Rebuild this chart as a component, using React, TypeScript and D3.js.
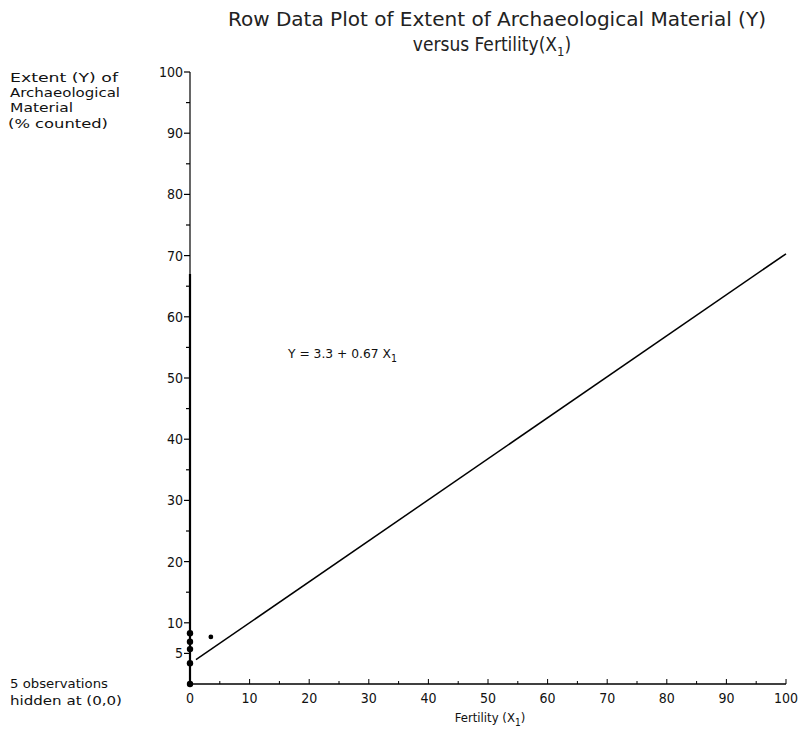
import React from "react";
import * as d3 from "d3";

const xTicks = [0, 10, 20, 30, 40, 50, 60, 70, 80, 90, 100];
const xTickLabels = ["0", "10", "20", "30", "40", "50", "60", "70", "80", "90", "100"];
const yTicks = [5, 10, 20, 30, 40, 50, 60, 70, 80, 90, 100];
const yTickLabels = ["5", "10", "20", "30", "40", "50", "60", "70", "80", "90", "100"];
const minorTicks = [5, 15, 25, 35, 45, 55, 65, 75, 85, 95];

const pointX = [0, 0, 0, 0, 0, 3.5];
const pointY = [0, 3.4, 5.7, 6.9, 8.3, 7.7];

const intercept = 3.3;
const slope = 0.67;

const W = 811;
const H = 736;
const FONT = "'DejaVu Sans Condensed', 'DejaVu Sans', sans-serif";

export default function App() {
  const x = d3.scaleLinear().domain([0, 100]).range([190, 786]);
  const y = d3.scaleLinear().domain([0, 100]).range([684, 72]);
  const line = d3
    .line<number>()
    .x((d) => x(d))
    .y((d) => y(intercept + slope * d));

  return (
    <svg
      width={W}
      height={H}
      style={{ position: "absolute", left: 0, top: 0, background: "#fff" }}
      fontFamily={FONT}
    >
      {/* Title */}
      <text x={497} y={26} fontSize={19} textAnchor="middle" fill="#222" textLength={538} lengthAdjust="spacingAndGlyphs">
        Row Data Plot of Extent of Archaeological Material (Y)
      </text>
      <text x={492} y={51} fontSize={19} textAnchor="middle" fill="#222">
        versus Fertility(X<tspan fontSize={13} dy={5}>1</tspan>
        <tspan dy={-5}>)</tspan>
      </text>

      {/* Y axis label */}
      <g fontSize={13} fill="#111">
        <text x={10} y={82} textLength={108} lengthAdjust="spacingAndGlyphs">Extent (Y) of</text>
        <text x={10} y={97} textLength={110} lengthAdjust="spacingAndGlyphs">Archaeological</text>
        <text x={10} y={112} textLength={63} lengthAdjust="spacingAndGlyphs">Material</text>
        <text x={8} y={128} textLength={100} lengthAdjust="spacingAndGlyphs">(% counted)</text>
      </g>

      {/* Axes */}
      <line x1={x(0)} x2={x(0)} y1={y(0)} y2={y(67)} stroke="#000" strokeWidth={2.2} />
      <line x1={x(0)} x2={x(0)} y1={y(67)} y2={y(100)} stroke="#000" strokeWidth={1.2} />
      <line x1={x(0)} x2={x(100)} y1={y(0)} y2={y(0)} stroke="#000" strokeWidth={1.6} />

      {/* Y ticks */}
      {yTicks.map((t, i) => (
        <g key={"yt" + t}>
          <line x1={x(0) - 6} x2={x(0)} y1={y(t)} y2={y(t)} stroke="#000" strokeWidth={1.2} />
          <text x={x(0) - 7} y={y(t) + 5} fontSize={14} textAnchor="end" fill="#111">
            {yTickLabels[i]}
          </text>
        </g>
      ))}
      {minorTicks.filter((t) => t > 10).map((t) => (
        <line key={"ym" + t} x1={x(0) - 4} x2={x(0)} y1={y(t)} y2={y(t)} stroke="#000" strokeWidth={1.2} />
      ))}

      {/* X ticks */}
      {xTicks.map((t, i) => (
        <g key={"xt" + t}>
          <line x1={x(t)} x2={x(t)} y1={y(0)} y2={y(0) - 5} stroke="#000" strokeWidth={1} />
          <text x={x(t)} y={y(0) + 19} fontSize={14} textAnchor="middle" fill="#111">
            {xTickLabels[i]}
          </text>
        </g>
      ))}
      {minorTicks.map((t) => (
        <line key={"xm" + t} x1={x(t)} x2={x(t)} y1={y(0)} y2={y(0) - 3} stroke="#000" strokeWidth={1} />
      ))}

      {/* X axis title */}
      <text x={490} y={722} fontSize={13} textAnchor="middle" fill="#111">
        Fertility (X<tspan fontSize={10} dy={4}>1</tspan>
        <tspan dy={-4}>)</tspan>
      </text>

      {/* Hidden observations note */}
      <g fontSize={13} fill="#111">
        <text x={10} y={688} textLength={98} lengthAdjust="spacingAndGlyphs">5 observations</text>
        <text x={10} y={705} textLength={112} lengthAdjust="spacingAndGlyphs">hidden at (0,0)</text>
      </g>

      {/* Regression line */}
      <path d={line([1, 100]) || ""} fill="none" stroke="#000" strokeWidth={1.5} />

      {/* Points */}
      {pointX.map((px, i) => (
        <circle key={"p" + i} cx={x(px)} cy={y(pointY[i])} r={i === 5 ? 2.4 : 3.2} fill="#000" />
      ))}

      {/* Equation */}
      <text x={288} y={358} fontSize={13} fill="#111" textLength={109} lengthAdjust="spacingAndGlyphs">
        Y = 3.3 + 0.67 X<tspan fontSize={10} dy={4}>1</tspan>
      </text>
    </svg>
  );
}
